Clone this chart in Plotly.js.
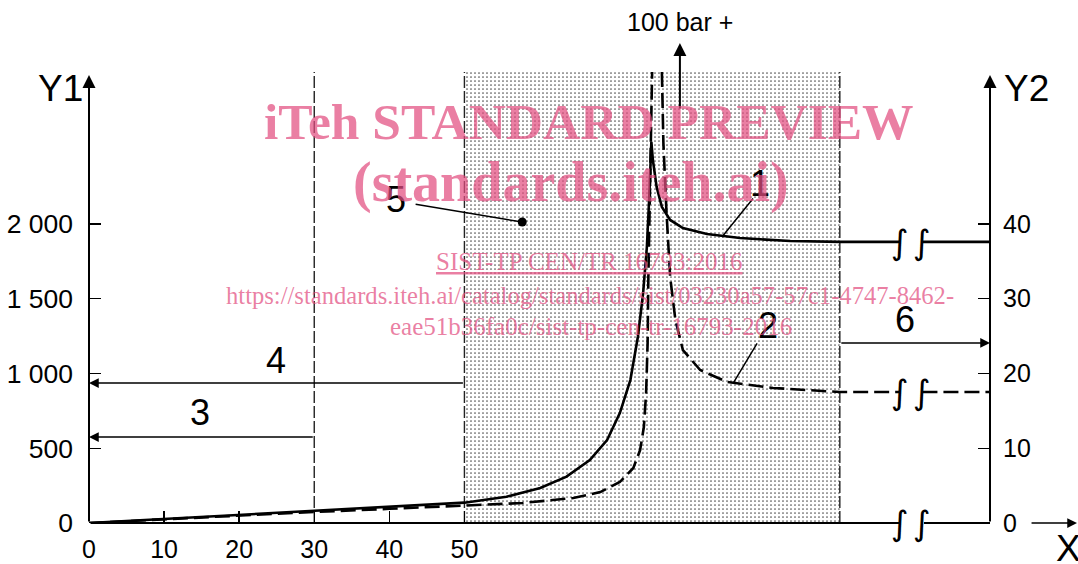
<!DOCTYPE html>
<html><head><meta charset="utf-8">
<script src="https://cdn.plot.ly/plotly-3.0.1.min.js"></script>
<style>html,body{margin:0;padding:0;background:#fff;} #chart{width:1078px;height:564px;}</style>
</head><body><div id="chart"></div>
<script>
// ---- data ----
const xTickVals = [0, 10, 20, 30, 40, 50];
const xTickText = ['0', '10', '20', '30', '40', '50'];
const y1TickVals = [0, 500, 1000, 1500, 2000];
const y1TickText = ['0', '500', '1 000', '1 500', '2 000'];
const y2TickVals = [0, 10, 20, 30, 40];
const y2TickText = ['0', '10', '20', '30', '40'];

// curve 1 (solid) and curve 2 (dashed), Y1 units
const curve1X = [0, 10, 20, 30, 40, 50, 55.6, 60.1, 63.6, 66.7, 69.0, 70.7, 72.1, 73.1, 73.8, 74.3, 74.6, 74.9, 75.1, 75.6, 76.3, 77.4, 79.1, 82.3, 86.7, 93.4, 100, 108, null, 111, 120];
const curve1Y = [0, 27, 53, 80, 108, 136, 176, 234, 310, 421, 555, 735, 956, 1244, 1538, 1846, 2160, 2550, 2428, 2248, 2114, 2027, 1973, 1933, 1906, 1886, 1880, 1880, null, 1880, 1880];
const curve2X = [0, 10, 20, 30, 40, 50, 57.8, 64.5, 68.1, 70.7, 72.5, 73.4, 73.9, 74.2, 74.4, 74.5, 74.7, 74.9, 75.0, null, 76.3, 76.5, 76.9, 77.4, 78.1, 79.1, 81.4, 85.0, 91.1, 100, 108, null, 111, 120];
const curve2Y = [0, 25, 50, 74, 95, 117, 134, 167, 207, 274, 368, 488, 642, 870, 1204, 1645, 2207, 2876, 3017, null, 3017, 2542, 2094, 1645, 1358, 1157, 1023, 943, 903, 876, 876, null, 876, 876];

const zoneBounds = [30, 50, 100];   // dashed verticals
const zoneTop = 3017;
const breakX = [108, 111];
const breakLevels = [1880, 876, 0];
const axisEndX = 120;
const axisTopY = 2997;
const arrowLevels = {zone3: 575, zone4: 936, zone6: 1204};

// ---- drawing ----
const SANS = 'Liberation Sans, Arial, sans-serif';
const SERIF = 'Liberation Serif, Times New Roman, serif';
const WM = 'rgba(226,78,128,0.72)';

const traces = [];
traces.push({
  x: [zoneBounds[1], zoneBounds[2], zoneBounds[2], zoneBounds[1], zoneBounds[1]],
  y: [0, 0, zoneTop, zoneTop, 0],
  mode: 'lines', fill: 'toself', line: {width: 0, color: 'rgba(0,0,0,0)'},
  fillcolor: 'white',
  fillpattern: {shape: '.', size: 4, solidity: 0.15, fgcolor: '#555', bgcolor: 'white'},
  hoverinfo: 'skip'
});
zoneBounds.forEach(b => traces.push({
  x: [b, b], y: [0, zoneTop], mode: 'lines',
  line: {color: '#222', width: 1.4, dash: '12px,3px'}, hoverinfo: 'skip'
}));
traces.push({x: curve2X, y: curve2Y, mode: 'lines', connectgaps: false,
  line: {color: 'black', width: 2.6, dash: '15px,6px'}, hoverinfo: 'skip'});
traces.push({x: curve1X, y: curve1Y, mode: 'lines', connectgaps: false,
  line: {color: 'black', width: 2.6}, hoverinfo: 'skip'});
traces.push({x: [axisEndX], y: [0], yaxis: 'y2', mode: 'markers',
  marker: {size: 1, opacity: 0}, hoverinfo: 'skip'});

function seg(x, y, ax, ay, head, w) {
  return {x: x, y: y, ax: ax, ay: ay, xref: 'x', yref: 'y', axref: 'x', ayref: 'y',
    text: '', showarrow: true, arrowhead: head, arrowsize: 1.3, arrowwidth: w || 1.5,
    arrowcolor: 'black', standoff: 0, startstandoff: 0};
}
function label(t, x, y, size) {
  return {x: x, y: y, xref: 'x', yref: 'y', text: t, showarrow: false,
    font: {family: SANS, size: size || 36, color: 'black'}, xanchor: 'center', yanchor: 'middle'};
}
function plabel(t, x, y, size) {
  return {x: x, y: y, xref: 'paper', yref: 'paper', text: t, showarrow: false,
    font: {family: SANS, size: size || 37, color: 'black'}, xanchor: 'center', yanchor: 'middle'};
}
function wm(t, x, y, size, bold) {
  return {x: x, y: y, xref: 'paper', yref: 'paper', text: bold ? '<b>' + t + '</b>' : t,
    showarrow: false, font: {family: SERIF, size: size, color: WM}, xanchor: 'center', yanchor: 'middle'};
}

const ann = [];
// axes
ann.push(seg(0, axisTopY, 0, 0, 2, 2));
ann.push(seg(axisEndX, axisTopY, axisEndX, 0, 2, 2));
ann.push(seg(breakX[0], 0, 0, 0, 0, 2));
ann.push(seg(axisEndX, 0, breakX[1], 0, 0, 2));
ann.push({x: 1.0966, y: 0, xref: 'paper', yref: 'y', ax: -47, ay: 0, axref: 'pixel', ayref: 'pixel',
  text: '', showarrow: true, arrowhead: 2, arrowsize: 1.3, arrowwidth: 1.5, arrowcolor: 'black'});
// zone arrows
ann.push(seg(0, arrowLevels.zone3, zoneBounds[0], arrowLevels.zone3, 2));
ann.push(seg(0, arrowLevels.zone4, zoneBounds[1], arrowLevels.zone4, 2));
ann.push(seg(axisEndX, arrowLevels.zone6, zoneBounds[2], arrowLevels.zone6, 2));
// leaders
ann.push(seg(84.3, 1913, 88.6, 2181, 0, 1.5));
ann.push(seg(85.8, 936, 89.1, 1211, 0, 1.5));
ann.push(Object.assign(seg(57.7, 2013, 43.3, 2134, 6, 1.5), {arrowsize: 1.5}));
// 100 bar arrow
ann.push({x: 78.7, y: 1.0526, xref: 'x', yref: 'paper', ax: 0, ay: 67, axref: 'pixel', ayref: 'pixel',
  text: '', showarrow: true, arrowhead: 2, arrowsize: 1.3, arrowwidth: 2, arrowcolor: 'black'});
ann.push({x: 78.7, y: 1.0987, xref: 'x', yref: 'paper', text: '100 bar +', showarrow: false,
  font: {family: SANS, size: 25, color: 'black'}, xanchor: 'center', yanchor: 'middle'});
// breaks
breakX.forEach(bx => breakLevels.forEach(lv => ann.push({x: bx, y: lv, xref: 'x', yref: 'y',
  text: '∫', showarrow: false, font: {family: 'DejaVu Sans', size: 34, color: 'black'},
  xanchor: 'center', yanchor: 'middle'})));
// numbered labels
ann.push(label('1', 89.4, 2274));
ann.push(label('2', 90.4, 1318));
ann.push(label('3', 14.8, 742));
ann.push(label('4', 24.9, 1090));
ann.push(label('5', 40.9, 2161));
ann.push(label('6', 108.7, 1358));
// axis names
ann.push(plabel('Y1', -0.0311, 0.9518));
ann.push(plabel('Y2', 1.04, 0.9518));
ann.push(plabel('X', 1.0866, -0.057));
// watermark
ann.push(wm('iTeh STANDARD PREVIEW', 0.5544, 0.8794, 51.5, true));
ann.push(wm('(standards.iteh.ai)', 0.535, 0.7478, 56, true));
ann.push(wm('<u>SIST-TP CEN/TR 16793:2016</u>', 0.5555, 0.5724, 25, false));
ann.push(wm('https://standards.iteh.ai/catalog/standards/sist/03230a57-57c1-4747-8462-', 0.5555, 0.5, 24.6, false));
ann.push(wm('eae51b36fa0c/sist-tp-cen-tr-16793-2016', 0.5572, 0.432, 25, false));

const tickCommon = {showline: false, showgrid: false, zeroline: false, tickmode: 'array',
  ticks: 'inside', ticklen: 12, tickwidth: 1.5, tickcolor: 'black',
  tickfont: {family: SANS, size: 25, color: 'black'}, fixedrange: true};

const layout = {
  width: 1078, height: 564,
  margin: {l: 89, r: 88, t: 67, b: 41, pad: 0},
  paper_bgcolor: 'white', plot_bgcolor: 'white', showlegend: false,
  xaxis: Object.assign({}, tickCommon, {range: [0, axisEndX], tickvals: xTickVals, ticktext: xTickText, ticklabelstandoff: 9}),
  yaxis: Object.assign({}, tickCommon, {range: [0, 3050], tickvals: y1TickVals, ticktext: y1TickText, ticklabelstandoff: 15,
    tickfont: {family: SANS, size: 26.5, color: 'black'}}),
  yaxis2: Object.assign({}, tickCommon, {range: [0, 61], overlaying: 'y', side: 'right', tickvals: y2TickVals, ticktext: y2TickText, ticklabelstandoff: 12}),
  annotations: ann
};
Plotly.newPlot('chart', traces, layout, {displayModeBar: false, staticPlot: true});
</script></body></html>
